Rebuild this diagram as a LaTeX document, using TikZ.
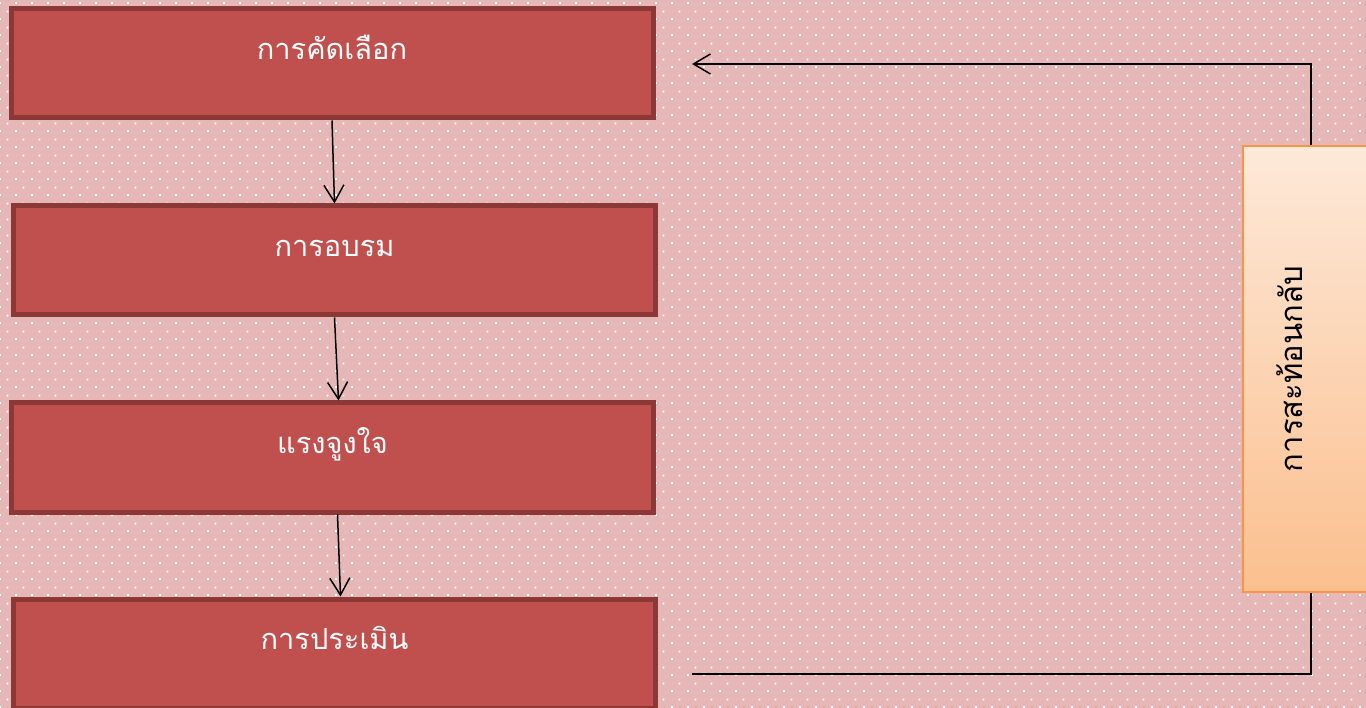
\documentclass[tikz,border=0pt]{standalone}
\usepackage{fontspec}
\newfontfamily\thaifont[Script=Thai]{Loma}
\usetikzlibrary{arrows.meta,calc,patterns}
\definecolor{bgpink}{HTML}{E5B8B7}
\definecolor{boxfill}{HTML}{C0504D}
\definecolor{boxline}{HTML}{8C3836}
\definecolor{fbline}{HTML}{F79646}
\definecolor{fbtop}{HTML}{FDE9D9}
\definecolor{fbbot}{HTML}{FBBF8E}
\pgfdeclarepatternformonly{bgdots}{\pgfqpoint{0pt}{0pt}}{\pgfqpoint{16pt}{16pt}}{\pgfqpoint{16pt}{16pt}}{%
  \pgfpathrectangle{\pgfqpoint{0pt}{0pt}}{\pgfqpoint{2pt}{2pt}}%
  \pgfpathrectangle{\pgfqpoint{8pt}{8pt}}{\pgfqpoint{2pt}{2pt}}%
  \pgfusepath{fill}}
\tikzset{
  stagebox/.style={draw=boxline, fill=boxfill, line width=5pt, inner sep=0pt,
    minimum width=642pt, minimum height=109pt},
  stagelbl/.style={text=white, anchor=base, inner sep=0pt,
    font=\thaifont\fontsize{29}{33}\selectfont},
  fbbox/.style={draw=fbline, line width=2pt, top color=fbtop, bottom color=fbbot,
    minimum width=136pt, minimum height=446pt, inner sep=0pt},
  fblbl/.style={text=black, rotate=90, anchor=base, inner sep=0pt,
    font=\thaifont\fontsize{31}{35}\selectfont},
  arr/.style={-{Straight Barb[length=17pt,width=20pt,line width=1.5pt]}, line width=1.5pt, black},
  plain/.style={line width=1.5pt, black}
}
\begin{document}
\begin{tikzpicture}[x=1pt,y=-1pt]
\useasboundingbox (0,0) rectangle (1366,708);
\fill[bgpink] (0,0) rectangle (1366,708);
\fill[pattern=bgdots, pattern color=white] (0,0) rectangle (1366,708);

\node[stagebox] (b1) at (332,63.5) {};
\node[stagebox] (b2) at (334.5,260.5) {};
\node[stagebox] (b3) at (332.5,457.5) {};
\node[stagebox] (b4) at (334.5,653.5) {};

\node[stagelbl] (t1) at ($(b1.north)+(0,53)$) {การคัดเลือก};
\node[stagelbl] (t2) at ($(b2.north)+(0,53)$) {การอบรม};
\node[stagelbl] (t3) at ($(b3.north)+(0,53)$) {แรงจูงใจ};
\node[stagelbl] (t4) at ($(b4.north)+(0,53)$) {การประเมิน};

\draw[arr] (b1.south) -- (b2.north);
\draw[arr] (b2.south) -- ($(b3.north)+(6,0)$);
\draw[arr] ($(b3.south)+(5,0)$) -- ($(b4.north)+(6,0)$);

\node[fbbox] (rb) at (1311,369) {};
\node[fblbl] (rt) at (1302,369) {การสะท้อนกลับ};

\coordinate (fbin) at (692,64);
\coordinate (fbout) at (692,674);
\draw[plain] (fbout) -| (rb.south);
\draw[arr] (rb.north) |- (fbin);
\end{tikzpicture}
\end{document}
